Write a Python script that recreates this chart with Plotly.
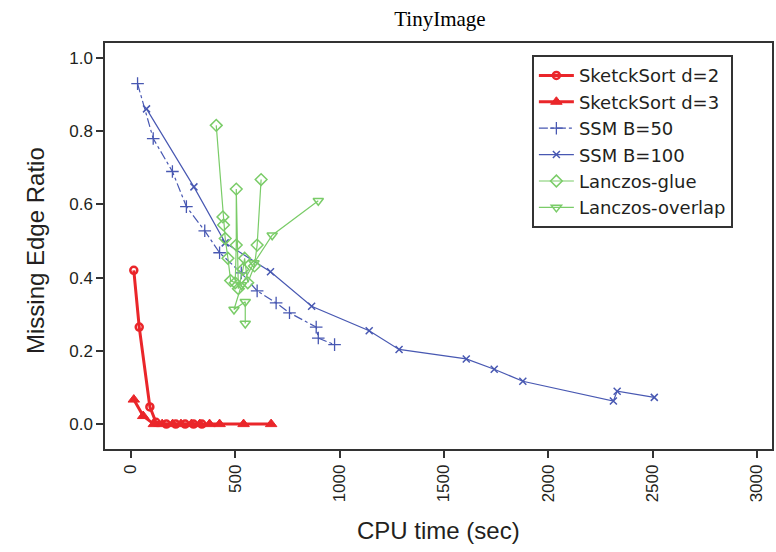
import plotly.graph_objects as go

# ---- data ----
ss2_x = [14, 40, 91, 120, 170, 215, 260, 300, 340]
ss2_y = [0.42, 0.265, 0.047, 0.005, 0.0, 0.0, 0.0, 0.0, 0.0]

ss3_x = [14, 59, 110, 150, 200, 240, 290, 330, 377, 425, 540, 672]
ss3_y = [0.067, 0.022, 0.0, 0.0, 0.0, 0.0, 0.0, 0.0, 0.0, 0.0, 0.0, 0.0]

ssm50_x = [32, 107, 199, 266, 354, 425, 529, 605, 696, 760, 888, 898, 976]
ssm50_y = [0.93, 0.78, 0.69, 0.594, 0.528, 0.468, 0.413, 0.364, 0.331, 0.304, 0.265, 0.235, 0.217]

ssm100_x = [75, 302, 452, 669, 866, 1142, 1285, 1607, 1741, 1878, 2312, 2330, 2508]
ssm100_y = [0.861, 0.648, 0.495, 0.416, 0.322, 0.255, 0.204, 0.178, 0.150, 0.117, 0.063, 0.09, 0.073]

glue_x = [409, 441, 444, 452, 465, 478, 500, 505, 505, 515, 537, 545, 560, 592, 605, 624]
glue_y = [0.816, 0.566, 0.544, 0.507, 0.453, 0.392, 0.386, 0.489, 0.642, 0.37, 0.423, 0.453, 0.386, 0.432, 0.489, 0.668]

overlap_x = [898, 677, 590, 530, 494, 548, 548]
overlap_y = [0.61, 0.516, 0.44, 0.38, 0.313, 0.334, 0.275]

x_ticks = [0, 500, 1000, 1500, 2000, 2500, 3000]
y_ticks = [0.0, 0.2, 0.4, 0.6, 0.8, 1.0]

RED = "rgb(234,38,42)"
BLUE = "rgb(72,88,178)"
GREEN = "rgb(122,204,104)"
FONT = "Liberation Sans"
TXT = "#231f20"

fig = go.Figure()

fig.add_trace(go.Scatter(
    x=ss2_x, y=ss2_y, name="SketckSort d=2", mode="lines+markers",
    line=dict(color=RED, width=3),
    marker=dict(symbol="circle-open", size=7, color=RED, line=dict(width=2.5, color=RED))))
fig.add_trace(go.Scatter(
    x=ss3_x, y=ss3_y, name="SketckSort d=3", mode="lines+markers",
    line=dict(color=RED, width=3),
    marker=dict(symbol="triangle-up", size=10, color=RED, line=dict(width=1, color=RED))))
fig.add_trace(go.Scatter(
    x=ssm50_x, y=ssm50_y, name="SSM B=50", mode="lines+markers",
    line=dict(color=BLUE, width=1.2, dash="dashdot"),
    marker=dict(symbol="cross-thin-open", size=9, color=BLUE, line=dict(width=1.3, color=BLUE))))
fig.add_trace(go.Scatter(
    x=ssm100_x, y=ssm100_y, name="SSM B=100", mode="lines+markers",
    line=dict(color=BLUE, width=1.2),
    marker=dict(symbol="x-thin-open", size=7, color=BLUE, line=dict(width=1.5, color=BLUE))))
fig.add_trace(go.Scatter(
    x=glue_x, y=glue_y, name="Lanczos-glue", mode="lines+markers",
    line=dict(color=GREEN, width=1.2),
    marker=dict(symbol="diamond-open", size=9, color=GREEN, line=dict(width=1.5, color=GREEN))))
fig.add_trace(go.Scatter(
    x=overlap_x, y=overlap_y, name="Lanczos-overlap", mode="lines+markers",
    line=dict(color=GREEN, width=1.2),
    marker=dict(symbol="triangle-down-open", size=9, color=GREEN, line=dict(width=1.5, color=GREEN))))

fig.update_layout(
    width=776, height=552,
    margin=dict(l=105, r=2, t=43, b=103),
    paper_bgcolor="white", plot_bgcolor="white",
    font=dict(family=FONT, color=TXT),
    title=dict(text="TinyImage", x=0.567, xanchor="center", y=0.967, yanchor="middle",
               font=dict(family="Liberation Serif", size=21, color="black")),
    showlegend=True,
    legend=dict(x=0.64, y=0.97, xanchor="left", yanchor="top",
                bordercolor="#333333", borderwidth=2, bgcolor="white",
                font=dict(family="DejaVu Sans", size=18, color=TXT),
                tracegroupgap=0, itemwidth=35),
    annotations=[
        dict(text="Missing Edge Ratio", xref="paper", yref="paper",
             x=-0.105, y=0.49, xanchor="center", yanchor="middle", textangle=-90,
             showarrow=False, font=dict(family=FONT, size=24, color=TXT)),
        dict(text="CPU time (sec)", xref="paper", yref="paper",
             x=0.5, y=-0.2, xanchor="center", yanchor="middle",
             showarrow=False, font=dict(family=FONT, size=24, color=TXT)),
    ],
)

fig.update_xaxes(
    range=[-124, 3072], tickmode="array", tickvals=x_ticks,
    ticktext=[str(v) for v in x_ticks], tickangle=-90,
    ticks="outside", ticklen=7, tickwidth=1.5, tickcolor="#333333",
    showline=True, linecolor="#333333", linewidth=1.5, mirror=True,
    showgrid=False, zeroline=False,
    tickfont=dict(family=FONT, size=17, color=TXT),
)
fig.update_yaxes(
    range=[-0.068, 1.041], tickmode="array", tickvals=y_ticks,
    ticktext=[f"{v:.1f}" for v in y_ticks],
    ticks="outside", ticklen=7, tickwidth=1.5, tickcolor="#333333",
    showline=True, linecolor="#333333", linewidth=1.5, mirror=True,
    showgrid=False, zeroline=False,
    tickfont=dict(family=FONT, size=17, color=TXT),
)

fig.write_html("out.html")
